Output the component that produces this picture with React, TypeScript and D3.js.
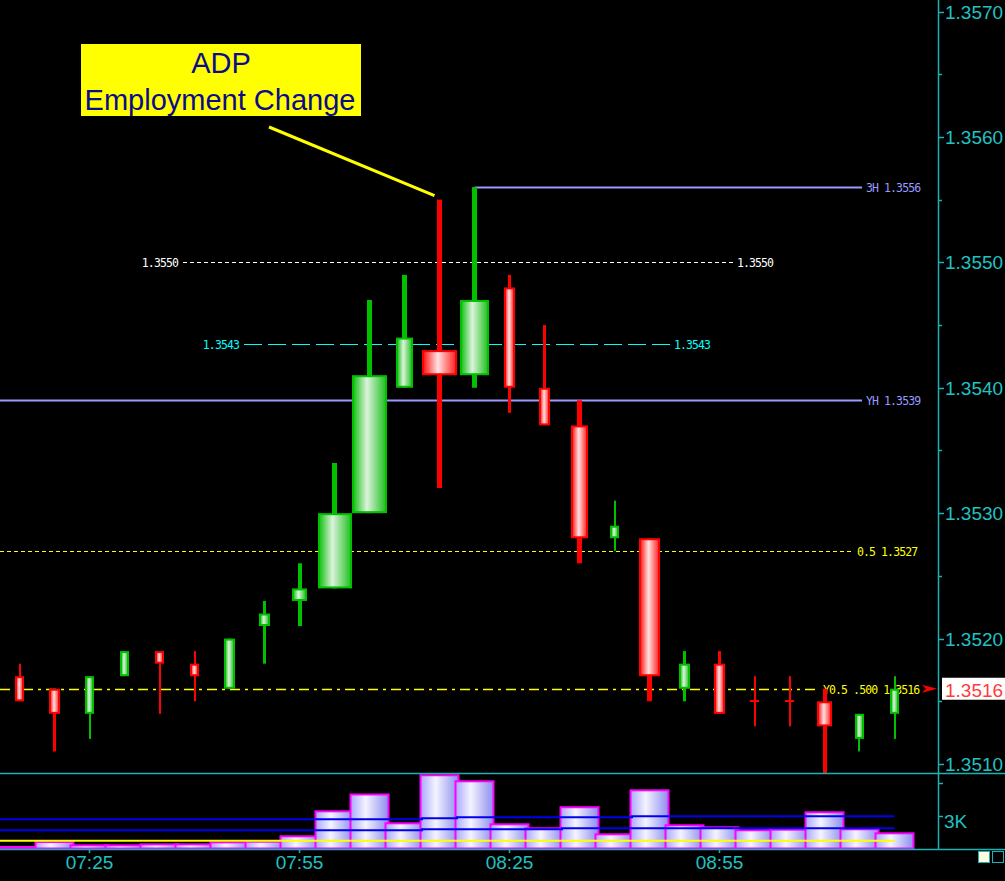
import * as d3 from "d3";
import React from "react";

// 5-minute bars, EUR/USD around the ADP release
const times = [
  "07:15", "07:20", "07:25", "07:30", "07:35", "07:40", "07:45", "07:50", "07:55",
  "08:00", "08:05", "08:10", "08:15", "08:20", "08:25", "08:30", "08:35", "08:40",
  "08:45", "08:50", "08:55", "09:00", "09:05", "09:10", "09:15", "09:20",
];
const open = [
  1.3517, 1.3516, 1.3514, 1.3517, 1.3519, 1.3518, 1.3516, 1.3521, 1.3523,
  1.3524, 1.353, 1.354, 1.3543, 1.3541, 1.3548, 1.354, 1.3537, 1.3528,
  1.3528, 1.3516, 1.3518, 1.3515, 1.3515, 1.3515, 1.3512, 1.3514,
];
const high = [
  1.3518, 1.3516, 1.3517, 1.3519, 1.3519, 1.3519, 1.352, 1.3523, 1.3526,
  1.3534, 1.3547, 1.3549, 1.3555, 1.3556, 1.3549, 1.3545, 1.3539, 1.3531,
  1.3528, 1.3519, 1.3519, 1.3517, 1.3517, 1.3516, 1.3514, 1.3517,
];
const low = [
  1.3515, 1.3511, 1.3512, 1.3517, 1.3514, 1.3515, 1.3516, 1.3518, 1.3521,
  1.3524, 1.353, 1.354, 1.3532, 1.354, 1.3538, 1.3537, 1.3526, 1.3527,
  1.3515, 1.3515, 1.3514, 1.3513, 1.3513, 1.3508, 1.3511, 1.3512,
];
const close = [
  1.3515, 1.3514, 1.3517, 1.3519, 1.3518, 1.3517, 1.352, 1.3522, 1.3524,
  1.353, 1.3541, 1.3544, 1.3541, 1.3547, 1.354, 1.3537, 1.3528, 1.3529,
  1.3517, 1.3518, 1.3514, 1.3515, 1.3515, 1.3513, 1.3514, 1.3516,
];
// tick count per bar, drives the candle width
const tickCount = [
  90, 110, 90, 90, 90, 90, 110, 110, 150, 340, 350, 170, 350, 290, 110, 110, 170,
  90, 210, 110, 110, 90, 90, 150, 90, 90,
];
const volume = [
  230, 680, 380, 380, 470, 470, 650, 710, 1200, 3470, 5000, 2380, 6750, 6200,
  2290, 1930, 3840, 1380, 5380, 2200, 2020, 1750, 1800, 3380, 1840, 1470,
];
const volAvgLong = [
  2650, 2650, 2650, 2650, 2650, 2650, 2650, 2650, 2650, 2650, 2650, 2650, 2750,
  2840, 2840, 2840, 2840, 2840, 2930, 2930, 2930, 2930, 2930, 2930, 2930, 2930,
];
const volAvgShort = [
  1650, 1650, 1650, 1650, 1650, 1650, 1650, 1650, 1650, 1650, 1650, 1650, 1750,
  1750, 1750, 1750, 1840, 1840, 1840, 1840, 1840, 1840, 1840, 1840, 1840, 1840,
];
const volFloor = times.map(() => 710);

const priceTicks = [1.351, 1.352, 1.353, 1.354, 1.355, 1.356, 1.357];
const timeTicks = ["07:25", "07:55", "08:25", "08:55"];
const levelValues = [1.3556, 1.355, 1.35435, 1.3539, 1.3527, 1.3516];
const levelLabels = ["3H 1.3556", "1.3550", "1.3543", "YH 1.3539", "0.5 1.3527", "Y0.5 .500 1.3516"];
const lastPrice = 1.3516;
const eventLines = ["ADP", "Employment Change"];

const W = 1005;
const H = 881;
const AXIS_X = 938;
const PRICE_BOTTOM = 773;
const VOL_BOTTOM = 849;
const TEAL = "#19b3b3";
const TEAL_TEXT = "#20c2c2";
const GREEN = "#00c000";
const RED = "#ff0000";
const LAVENDER = "#9a9aff";
const YELLOW = "#ffff00";
const MONO = "'DejaVu Sans Mono', monospace";
const SANS = "'Liberation Sans', Arial, sans-serif";

const parse = d3.timeParse("%H:%M");
const tx = (t: string) => x(parse(t) as Date);
const x = d3
  .scaleTime()
  .domain([parse(times[0]) as Date, parse(times[times.length - 1]) as Date])
  .range([19.5, 894.5]);
const y = d3.scaleLinear().domain([1.351, 1.357]).range([764, 11.5]);
const yv = d3.scaleLinear().domain([0, 3000]).range([848.5, 815.5]);
const wScale = d3.scaleLinear().domain([0, 350]).range([0, 35]);
const fmt = d3.format(".4f");

// per level: line start/end, colour, dash, where labels sit
const levelStyle = [
  { x1: tx(times[13]), x2: 862, color: LAVENDER, dash: "", sw: 2, left: false },
  { x1: 183, x2: 733, color: "#ffffff", dash: "4,3", sw: 1, left: true },
  { x1: 244, x2: 670, color: "#00ffff", dash: "18,6", sw: 1, left: true },
  { x1: 0, x2: 862, color: LAVENDER, dash: "", sw: 2, left: false },
  { x1: 0, x2: 853, color: YELLOW, dash: "4,3", sw: 1, left: false },
  { x1: 0, x2: 819, color: YELLOW, dash: "10,5,3,5", sw: 1.5, left: false },
];

const volLine = (vals: number[]) =>
  d3
    .line<[number, number]>()
    .x((d) => d[0])
    .y((d) => yv(d[1]))
    .curve(d3.curveStep)([[0, vals[0]], ...vals.map((v, i) => [tx(times[i]), v] as [number, number])]) || "";

const App: React.FC = () => {
  const minorTicks = y.ticks(12);
  const lastY = y(lastPrice);
  const evX = tx(times[12]);
  const evY = y(high[12]);

  return (
    <svg
      width={W}
      height={H}
      style={{ position: "absolute", left: 0, top: 0, background: "#000" }}
    >
      <defs>
        <linearGradient id="gUp">
          <stop offset="0%" stopColor="#10c010" />
          <stop offset="42%" stopColor="#dcf3dc" />
          <stop offset="100%" stopColor="#20c020" />
        </linearGradient>
        <linearGradient id="gDown">
          <stop offset="0%" stopColor="#ff1010" />
          <stop offset="45%" stopColor="#ffe2e2" />
          <stop offset="100%" stopColor="#ff2020" />
        </linearGradient>
        <linearGradient id="gVol">
          <stop offset="0%" stopColor="#a8a8ff" />
          <stop offset="40%" stopColor="#f4f4ff" />
          <stop offset="100%" stopColor="#8c8cf0" />
        </linearGradient>
        <clipPath id="pricePane">
          <rect x={0} y={0} width={AXIS_X} height={PRICE_BOTTOM} />
        </clipPath>
        <clipPath id="volPane">
          <rect x={0} y={PRICE_BOTTOM + 1} width={AXIS_X} height={VOL_BOTTOM - PRICE_BOTTOM - 1} />
        </clipPath>
      </defs>
      <rect width={W} height={H} fill="#000" />

      {/* price levels */}
      <g>
        {levelValues.map((v, i) => {
          const s = levelStyle[i];
          const ly = Math.round(y(v)) + 0.5;
          return (
            <g key={levelLabels[i]} fontFamily={MONO} fontSize={11.5} letterSpacing={-0.9} fill={s.color}>
              <line
                x1={s.x1}
                x2={s.x2}
                y1={ly}
                y2={ly}
                stroke={s.color}
                strokeWidth={s.sw}
                strokeDasharray={s.dash || undefined}
              />
              {s.left && (
                <text x={s.x1 - 5} y={ly + 4.5} textAnchor="end">
                  {levelLabels[i]}
                </text>
              )}
              <text x={s.x2 + 4} y={ly + 4.5}>
                {levelLabels[i]}
              </text>
            </g>
          );
        })}
      </g>

      {/* volume */}
      <g clipPath="url(#volPane)">
        {volume.map((v, i) => {
          const cx = tx(times[i]);
          const top = yv(v);
          return (
            <rect
              key={times[i]}
              x={cx - 19}
              y={top + 1}
              width={38}
              height={Math.max(0, yv(0) - top - 1)}
              fill="url(#gVol)"
              stroke="#ff00ff"
              strokeWidth={2}
            />
          );
        })}
        <path d={volLine(volAvgLong)} fill="none" stroke="#0000ee" strokeWidth={2} />
        <path d={volLine(volAvgShort)} fill="none" stroke="#0000ee" strokeWidth={2} />
        <path d={volLine(volFloor)} fill="none" stroke={YELLOW} strokeWidth={2} />
      </g>

      {/* candles */}
      <g clipPath="url(#pricePane)">
        {times.map((t, i) => {
          const cx = tx(t);
          const up = close[i] > open[i];
          const col = up ? GREEN : RED;
          const w = wScale(tickCount[i]);
          const ww = Math.max(2, Math.min(5, Math.round((w - 1) / 3.3)));
          const yTop = y(Math.max(open[i], close[i]));
          const yBot = y(Math.min(open[i], close[i]));
          const doji = open[i] === close[i];
          return (
            <g key={t}>
              <rect
                x={Math.round(cx - ww / 2)}
                y={y(high[i])}
                width={ww}
                height={y(low[i]) - y(high[i])}
                fill={col}
              />
              {doji ? (
                <rect x={Math.round(cx - w / 2)} y={Math.round(yTop) - 1} width={w} height={2} fill={col} />
              ) : (
                <rect
                  x={Math.round(cx - w / 2) + 1}
                  y={yTop + 1}
                  width={w - 2}
                  height={yBot - yTop - 2}
                  fill={`url(#${up ? "gUp" : "gDown"})`}
                  stroke={col}
                  strokeWidth={2}
                />
              )}
            </g>
          );
        })}
      </g>

      {/* event annotation */}
      <g>
        <rect x={81} y={44} width={280} height={72} fill={YELLOW} />
        <text x={221} y={73} textAnchor="middle" fontFamily={SANS} fontSize={29} fill="#0b0b8c">
          {eventLines[0]}
        </text>
        <text x={220} y={110} textAnchor="middle" fontFamily={SANS} fontSize={29} fill="#0b0b8c">
          {eventLines[1]}
        </text>
        <line x1={269} y1={127} x2={evX - 5} y2={evY - 4} stroke={YELLOW} strokeWidth={3} />
      </g>

      {/* frame and axes */}
      <g stroke={TEAL} strokeWidth={1.5}>
        <line x1={0} x2={W} y1={PRICE_BOTTOM + 0.5} y2={PRICE_BOTTOM + 0.5} />
        <line x1={0} x2={W} y1={VOL_BOTTOM + 0.5} y2={VOL_BOTTOM + 0.5} />
        <line x1={AXIS_X + 0.5} x2={AXIS_X + 0.5} y1={0} y2={VOL_BOTTOM} />
        {minorTicks.map((v) => (
          <line
            key={v}
            x1={AXIS_X}
            x2={AXIS_X + (priceTicks.some((p) => Math.abs(p - v) < 1e-7) ? 6 : 4)}
            y1={Math.round(y(v)) + 0.5}
            y2={Math.round(y(v)) + 0.5}
          />
        ))}
        {[3000, 6000].map((v) => (
          <line key={v} x1={AXIS_X} x2={AXIS_X + 5} y1={Math.round(yv(v)) + 0.5} y2={Math.round(yv(v)) + 0.5} />
        ))}
        {timeTicks.map((t) => (
          <line key={t} x1={tx(t)} x2={tx(t)} y1={VOL_BOTTOM} y2={VOL_BOTTOM + 4} />
        ))}
      </g>
      <g fontFamily={SANS} fontSize={19} fill={TEAL_TEXT}>
        {priceTicks.map((p) => (
          <text key={p} x={AXIS_X + 7} y={y(p) + 7}>
            {fmt(p)}
          </text>
        ))}
        <text x={AXIS_X + 6} y={yv(3000) + 12}>
          3K
        </text>
        {timeTicks.map((t) => (
          <text key={t} x={tx(t)} y={869} textAnchor="middle">
            {t}
          </text>
        ))}
      </g>

      {/* last price marker */}
      <polygon
        points={`${AXIS_X - 16},${lastY - 4} ${AXIS_X - 1},${lastY} ${AXIS_X - 16},${lastY + 4} ${AXIS_X - 12},${lastY}`}
        fill={RED}
      />
      <rect x={AXIS_X + 4} y={lastY - 11} width={W - AXIS_X - 4} height={22} fill="#fff" />
      <text x={AXIS_X + 7} y={lastY + 8} fontFamily={SANS} fontSize={19} fill="#ff3c3c">
        {fmt(lastPrice)}
      </text>

      {/* window buttons */}
      <rect x={978.5} y={851.5} width={11} height={11} fill="#ffffe0" stroke={TEAL} />
      <rect x={992.5} y={851.5} width={11} height={11} fill="none" stroke={TEAL} />
    </svg>
  );
};

export default App;
